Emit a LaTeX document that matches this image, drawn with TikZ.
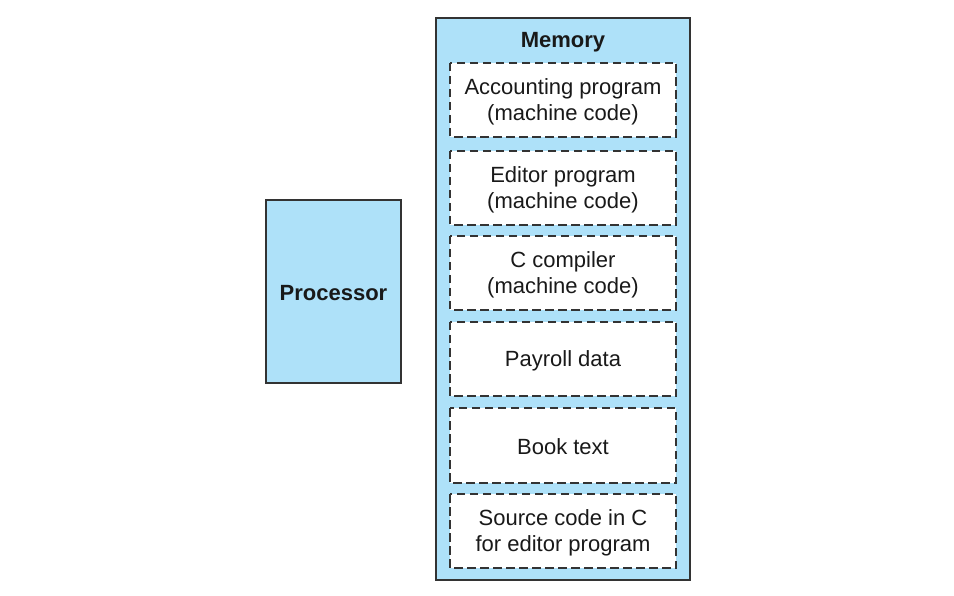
\documentclass[tikz,border=0pt]{standalone}
\usepackage{fontspec}
\setmainfont{Liberation Sans}
\definecolor{memblue}{HTML}{AEE1F9}
\definecolor{edge}{HTML}{333333}
\begin{document}
\begin{tikzpicture}[x=1pt,y=-1pt,
  bluebox/.style={draw=edge,fill=memblue,line width=1.1pt},
  slot/.style={draw=edge,fill=white,line width=1.1pt,dash pattern=on 8.5pt off 4.5pt},
  lbl/.style={font=\fontsize{22}{26}\selectfont,align=center,text=black!90}]
\useasboundingbox (0,0) rectangle (954,596);
\draw[bluebox] (436,18) rectangle (690,580);
\node[lbl,font=\fontsize{22}{26}\selectfont\bfseries] (mem) at (563,42) {Memory};
\draw[bluebox] (266,200) rectangle (401,383);
\node[lbl,font=\fontsize{22}{26}\selectfont\bfseries] (proc) at (333.5,293) {Processor};
\foreach \t/\b/\txt/\nm in {63/137/{Accounting program\\(machine code)}/s1,
  151/225/{Editor program\\(machine code)}/s2,
  236/310/{C compiler\\(machine code)}/s3,
  322/396/{Payroll data}/s4,
  408/483/{Book text}/s5,
  494/568/{Source code in C\\for editor program}/s6}{
  \draw[slot] (450,\t) rectangle (676,\b);
  \node[lbl] (\nm) at (563,{(\t+\b)/2+1.5}) {\txt};
}
\end{tikzpicture}
\end{document}
